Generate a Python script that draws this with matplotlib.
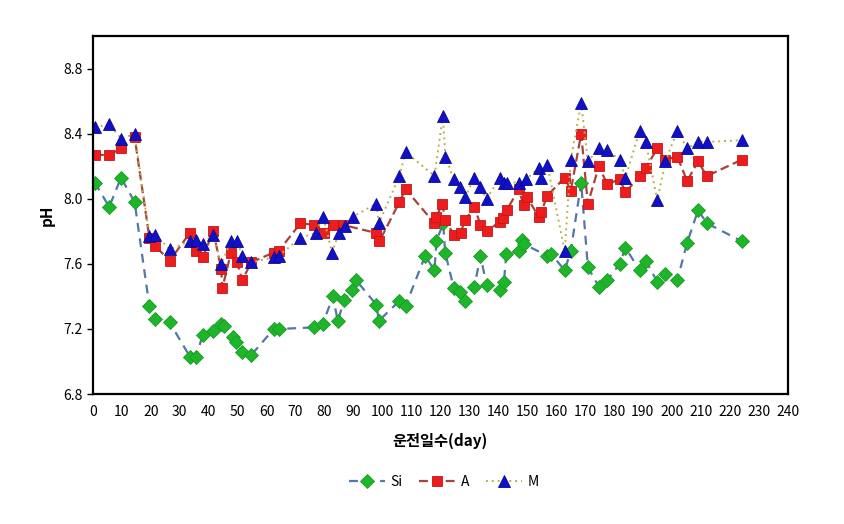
import matplotlib
matplotlib.use("Agg")
import matplotlib.pyplot as plt

plt.rcParams['font.family'] = ['Noto Sans CJK KR', 'DejaVu Sans']

# operating days and pH for each reactor
si_day = [0.7, 5.6, 9.7, 14.4, 19.5, 21.5, 26.5, 33.5, 35.6, 37.9, 41.6, 44.3, 45.3,
          48.3, 49.4, 51.6, 54.7, 62.5, 64.2, 76.5, 79.4, 82.9, 84.6, 86.9, 89.4,
          90.9, 97.9, 98.8, 105.7, 108.0, 114.8, 118.0, 118.7, 121.0, 121.7, 124.7,
          126.7, 128.7, 131.8, 133.9, 136.0, 140.7, 142.0, 142.8, 147.1, 148.2,
          149.1, 157.0, 158.4, 163.0, 165.1, 168.7, 171.0, 174.8, 177.7, 182.0,
          184.0, 188.9, 191.0, 195.0, 197.8, 201.9, 205.3, 209.1, 212.1, 224.1]
si_ph = [8.10, 7.95, 8.13, 7.98, 7.34, 7.26, 7.24, 7.03, 7.03, 7.16, 7.19, 7.23, 7.22,
         7.15, 7.12, 7.06, 7.04, 7.20, 7.20, 7.21, 7.23, 7.40, 7.25, 7.38, 7.44,
         7.50, 7.35, 7.25, 7.37, 7.34, 7.65, 7.56, 7.74, 7.85, 7.67, 7.45,
         7.43, 7.37, 7.46, 7.65, 7.47, 7.44, 7.49, 7.66, 7.68, 7.75,
         7.72, 7.65, 7.66, 7.56, 7.68, 8.10, 7.58, 7.46, 7.50, 7.60,
         7.70, 7.56, 7.62, 7.49, 7.54, 7.50, 7.73, 7.93, 7.85, 7.74]

a_day = [0.7, 5.6, 9.7, 14.4, 19.5, 21.5, 26.5, 33.5, 35.6, 37.9, 41.6, 44.3, 44.7,
         47.7, 49.8, 51.6, 54.7, 62.5, 64.2, 71.7, 76.5, 79.7, 82.9, 86.3, 97.9,
         99.0, 105.9, 108.0, 118.0, 118.7, 120.7, 121.7, 124.7, 127.0, 128.6,
         131.8, 133.9, 136.0, 140.7, 141.6, 143.0, 147.1, 148.8, 150.0, 154.0,
         154.9, 157.0, 163.0, 165.1, 168.7, 171.0, 174.8, 177.7, 182.0, 184.0,
         188.9, 191.0, 195.0, 197.8, 201.9, 205.3, 209.1, 212.1, 224.1]
a_ph = [8.27, 8.27, 8.31, 8.38, 7.76, 7.71, 7.62, 7.79, 7.68, 7.64, 7.80, 7.57, 7.45,
        7.67, 7.61, 7.50, 7.61, 7.67, 7.68, 7.85, 7.84, 7.79, 7.84, 7.84, 7.79,
        7.74, 7.98, 8.06, 7.85, 7.89, 7.97, 7.87, 7.78, 7.79, 7.87,
        7.95, 7.84, 7.80, 7.86, 7.88, 7.93, 8.06, 7.96, 8.01, 7.89,
        7.92, 8.02, 8.13, 8.05, 8.40, 7.97, 8.20, 8.09, 8.12, 8.04,
        8.14, 8.19, 8.31, 8.24, 8.26, 8.11, 8.23, 8.14, 8.24]

m_day = [0.7, 5.6, 9.7, 14.4, 19.5, 21.5, 26.5, 33.5, 35.6, 37.9, 41.6, 44.3, 47.7,
         49.8, 51.6, 54.7, 62.5, 64.2, 71.7, 76.9, 79.6, 82.6, 85.0, 87.1, 89.8,
         97.9, 98.8, 105.9, 108.0, 118.0, 120.9, 121.8, 124.7, 126.9, 128.6,
         131.8, 133.9, 136.0, 140.7, 142.0, 143.0, 147.1, 149.7, 154.0, 154.9,
         157.0, 163.0, 165.1, 168.7, 171.0, 174.8, 177.7, 182.0, 184.0, 188.9,
         191.0, 195.0, 197.8, 201.9, 205.3, 209.1, 212.1, 224.1]
m_ph = [8.44, 8.46, 8.37, 8.40, 7.77, 7.78, 7.69, 7.74, 7.75, 7.72, 7.78, 7.60, 7.74,
        7.74, 7.65, 7.61, 7.64, 7.65, 7.76, 7.79, 7.89, 7.67, 7.79, 7.83, 7.89,
        7.97, 7.85, 8.14, 8.29, 8.14, 8.51, 8.26, 8.12, 8.07, 8.01,
        8.13, 8.07, 8.00, 8.13, 8.10, 8.10, 8.10, 8.12, 8.19, 8.13,
        8.21, 7.68, 8.24, 8.59, 8.23, 8.31, 8.30, 8.24, 8.13, 8.42,
        8.35, 7.99, 8.23, 8.42, 8.31, 8.35, 8.35, 8.36]

x_ticks = list(range(0, 241, 10))
y_ticks = [6.8, 7.2, 7.6, 8.0, 8.4, 8.8]

fig = plt.figure(figsize=(8.45, 5.24), dpi=100)
ax = fig.add_axes([0.110, 0.248, 0.822, 0.683])

ax.plot(si_day, si_ph, linestyle=(0, (4, 3)), color='#5476A8', lw=1.6,
        marker='D', ms=7.5, mfc='#1FB52B', mec='#1A9A25', mew=0.6, label='Si')
ax.plot(a_day, a_ph, linestyle=(0, (4, 2)), color='#A8423C', lw=1.6,
        marker='s', ms=7.5, mfc='#EE1C1C', mec='#C01818', mew=0.6, label='A')
ax.plot(m_day, m_ph, linestyle=(0, (1, 2)), color='#B8B050', lw=1.4,
        marker='^', ms=8, mfc='#1010C8', mec='#0A0A90', mew=0.6, label='M')

ax.set_xlim(0, 240)
ax.set_ylim(6.8, 9.0)
ax.set_xticks(x_ticks)
ax.set_yticks(y_ticks)
ax.set_yticklabels([f"{v:.1f}" for v in y_ticks])
ax.tick_params(axis='x', length=0, pad=8, labelsize=10)
ax.tick_params(axis='y', length=4, width=1, direction='out', labelsize=10)
for s in ax.spines.values():
    s.set_linewidth(1.6)
    s.set_color('black')

ax.set_xlabel("운전일수(day)", fontsize=11, fontweight='bold', labelpad=10)
ax.set_ylabel("pH", fontsize=11, fontweight='bold', labelpad=6)

fig.legend(loc='center', bbox_to_anchor=(0.525, 0.08), ncol=3, frameon=False,
           fontsize=10, handlelength=2.6, columnspacing=1.2, handletextpad=0.4)

fig.savefig("out.png", dpi=100)
